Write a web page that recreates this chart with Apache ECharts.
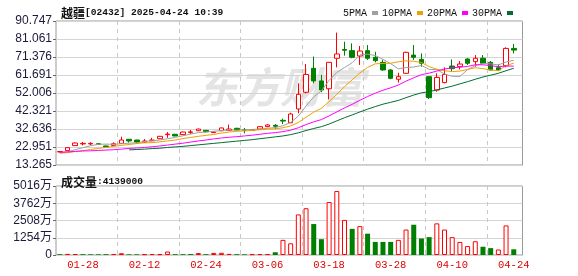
<!DOCTYPE html>
<html><head><meta charset="utf-8">
<script src="https://cdn.jsdelivr.net/npm/echarts@6/dist/echarts.min.js"></script>
<style>html,body{margin:0;padding:0;background:#fff}#c{width:578px;height:276px}</style>
</head><body><div id="c"></div>
<script>
const dates=['01-23','01-24','01-27','01-28','02-03','02-04','02-05','02-06','02-07','02-10','02-11','02-12','02-13','02-14','02-17','02-18','02-19','02-20','02-21','02-24','02-25','02-26','02-27','02-28','03-03','03-04','03-05','03-06','03-07','03-10','03-11','03-12','03-13','03-14','03-17','03-18','03-19','03-20','03-21','03-24','03-25','03-26','03-27','03-28','03-31','04-01','04-02','04-03','04-07','04-08','04-09','04-10','04-11','04-14','04-15','04-16','04-17','04-22','04-23','04-24'];
const opens=[20.3,21.0,23.7,24.6,24.6,24.7,23.5,23.8,24.9,27.1,26.7,25.5,26.3,27.4,29.6,29.8,29.6,30.8,31.7,31.9,30.7,31.7,31.9,33.0,32.2,32.0,32.6,33.9,34.6,37.3,36.0,43.4,52.4,65.3,58.5,54.3,70.7,75.4,74.8,71.9,74.8,71.2,68.5,64.4,59.4,62.6,72.4,70.1,60.8,53.6,57.6,66.5,66.2,70.3,68.9,70.7,68.5,65.6,66.7,76.0];
const closes=[20.5,22.6,25.1,24.9,24.9,24.4,23.0,24.7,26.7,26.2,25.6,26.2,26.7,28.7,29.9,28.9,31.0,31.1,32.6,31.2,31.0,33.2,32.6,32.1,32.1,32.2,33.9,34.8,34.1,36.9,40.7,51.3,62.0,58.5,53.6,68.5,73.0,75.0,71.2,74.6,70.7,69.4,64.4,59.9,60.8,73.9,71.2,68.0,49.5,60.4,62.0,65.1,67.6,68.0,70.7,68.0,64.4,64.4,76.0,75.1];
const lows=[20.0,20.9,23.6,23.8,23.9,24.2,22.8,23.7,24.8,25.3,24.7,25.3,26.1,27.2,27.9,28.7,29.4,29.8,31.5,30.8,30.5,31.5,31.8,31.9,30.3,31.7,32.4,33.6,32.6,35.3,35.9,41.1,51.8,57.2,52.4,48.6,65.8,72.1,70.7,67.1,69.8,68.5,64.0,59.4,57.6,62.4,69.8,66.2,48.8,52.7,57.2,63.5,64.7,67.1,66.2,67.8,64.2,64.2,65.8,73.3];
const highs=[20.8,22.7,25.4,25.6,25.5,24.9,23.7,25.4,28.5,27.2,26.8,27.2,27.9,28.9,31.0,30.0,31.2,32.1,32.8,32.0,31.2,33.3,35.0,33.3,33.2,32.6,34.2,35.2,35.3,38.2,41.4,57.2,67.6,71.6,61.7,68.6,84.5,79.6,78.7,77.3,77.8,74.2,69.8,64.9,62.9,74.2,77.8,73.3,60.9,62.6,65.8,70.1,69.2,70.7,72.4,72.4,69.2,67.4,76.6,78.4];
const ma5=[19.8,20.4,21.5,22.6,23.6,24.4,24.5,24.4,24.7,25.0,25.2,25.9,26.3,26.7,27.4,28.1,29.0,29.9,30.7,31.0,31.4,31.8,32.1,32.0,32.2,32.4,32.6,33.0,33.4,34.4,36.1,39.6,45.0,49.9,53.2,58.8,63.1,65.7,68.3,72.5,72.9,72.2,70.1,67.8,65.0,65.7,66.0,66.8,64.7,64.6,62.2,61.0,60.9,64.6,66.7,67.9,67.7,67.1,68.7,69.6];
const ma10=[19.6,19.9,20.5,21.0,21.6,22.2,22.7,23.3,23.8,24.3,24.8,25.2,25.3,25.7,26.2,26.7,27.5,28.1,28.7,29.2,29.7,30.4,31.0,31.4,31.6,31.9,32.2,32.6,32.7,33.3,34.3,36.1,39.0,41.7,43.8,47.4,51.3,55.4,59.1,62.8,65.8,67.7,67.9,68.0,68.8,69.3,69.1,68.4,66.2,64.8,64.0,63.5,63.8,64.7,65.6,65.1,64.4,64.0,66.7,68.1];
const ma20=[20.1,20.3,20.6,20.8,20.9,21.1,21.3,21.5,21.8,22.2,22.4,22.7,23.1,23.5,24.0,24.5,25.0,25.6,26.2,26.7,27.3,27.8,28.2,28.5,28.9,29.3,29.8,30.3,30.7,31.2,32.0,33.3,35.0,36.5,37.7,39.7,41.8,44.0,45.9,48.1,50.1,51.9,53.5,54.8,56.3,58.4,60.2,61.9,62.7,63.8,64.9,65.6,65.9,66.3,67.2,67.2,66.7,66.2,66.5,66.5];
const ma30=[null,null,null,null,null,null,null,null,null,21.4,21.6,21.8,22.1,22.3,22.7,23.0,23.3,23.7,24.1,24.5,24.9,25.3,25.7,26.1,26.5,26.9,27.4,27.9,28.4,28.9,29.6,30.6,31.8,32.9,33.9,35.3,37.0,38.7,40.2,41.8,43.3,44.7,46.0,47.0,48.0,49.5,50.9,52.1,52.7,53.7,54.7,55.7,56.9,58.1,59.4,60.6,61.6,62.6,64.0,65.3];
// volume in 万 shares; direction 1 = up (red hollow), -1 = down (green)
const volumes=[60,80,70,60,50,50,60,70,130,50,50,60,70,60,250,60,60,70,140,60,150,160,80,60,50,60,70,70,200,1100,850,2950,3400,2250,1150,3850,4650,2550,1900,2100,1550,950,950,950,1100,1850,2200,1200,1300,2300,1850,1300,950,650,1000,600,500,400,2150,413.9];
const volDir=[-1,1,1,-1,-1,-1,-1,1,1,-1,-1,1,1,1,1,-1,-1,-1,1,-1,1,1,1,-1,-1,1,1,1,-1,1,1,1,1,-1,-1,1,1,1,-1,1,-1,-1,-1,-1,1,1,-1,-1,-1,1,1,1,1,1,1,-1,-1,1,1,-1];
const priceTicks=['13.265','22.951','32.636','42.321','52.006','61.691','71.376','81.061','90.747'];
const volTicks=['0','1254万','2508万','3762万','5016万'];
const priceMin=13.265, priceMax=90.747, volMax=5016;
const maNames=['5PMA','10PMA','20PMA','30PMA'];

const RED='#ff0000', GREEN='#008000';
const MONO='"Liberation Mono","DejaVu Sans Mono",monospace';
const CJK='"Noto Sans CJK SC",sans-serif';
const NUM='"Liberation Sans","Noto Sans CJK SC",sans-serif';

const candleData=opens.map((o,i)=>[o,closes[i],lows[i],highs[i]]);
const volData=volumes.map((v,i)=>({value:v,itemStyle:volDir[i]>0?{color:'#ffffff',borderColor:RED,borderWidth:1}:{color:GREEN,borderColor:GREEN,borderWidth:0}}));
const lastVol=Math.round(volumes[volumes.length-1]*10000);

const chart=echarts.init(document.getElementById('c'),null,{renderer:'canvas'});
const frameGrid={show:true,borderColor:'#9a9a9a',borderWidth:1,backgroundColor:'transparent',outerBoundsMode:'none',containLabel:false};
const dataGrid={show:false,outerBoundsMode:'none',containLabel:false};
const labelShow=(idx)=>(idx-3)%8===0;
const hiddenVal=(g,min,max)=>({gridIndex:g,type:'value',min:min,max:max,show:false});
const helperX=(g)=>({gridIndex:g,type:'value',min:-3.5,max:56.5,interval:8,position:'top',axisLine:{show:false},axisTick:{show:false},axisLabel:{show:false},splitLine:{show:true,showMinLine:false,showMaxLine:false,lineStyle:{color:'#c8c8c8',type:[4,4],width:1}}});

const maColors=['#a0a0a0','#f0a000','#ff00ff','#006f30'];
const maData=[ma5,ma10,ma20,ma30];

chart.setOption({
  animation:false,
  backgroundColor:'#ffffff',
  title:[
    {text:'{c|越疆}{m|[02432] 2025-04-24 10:39}',left:56,top:2,textStyle:{rich:{c:{fontFamily:CJK,fontSize:12,color:'#111'},m:{fontFamily:MONO,fontSize:9.6,color:'#111'}}}},
    {text:'{c|成交量}{m|:'+lastVol+'}',left:56,top:171,textStyle:{rich:{c:{fontFamily:CJK,fontSize:12,color:'#111'},m:{fontFamily:MONO,fontSize:9.6,color:'#111'}}}}
  ],
  legend:{data:maNames,left:338,top:3,align:'right',icon:'rect',itemWidth:6,itemHeight:4,itemGap:4,selectedMode:false,textStyle:{fontFamily:MONO,fontSize:10,color:'#111',padding:[0,0,0,0]}},
  graphic:[{type:'text',left:196,top:66,z:0,silent:true,style:{text:'东方财富',font:'italic bold 42px "Noto Sans CJK SC"',fill:'#e4e4e4'}}],
  grid:[
    Object.assign({left:56,right:55.5,top:21,height:144},frameGrid),
    Object.assign({left:56,width:461.6,top:21,height:144},dataGrid),
    Object.assign({left:56,right:55.5,top:186,height:69},frameGrid),
    Object.assign({left:56,width:461.6,top:186,height:69},dataGrid)
  ],
  xAxis:[
    hiddenVal(0,0,1),
    {gridIndex:1,type:'category',data:dates,boundaryGap:true,axisLine:{show:false},axisTick:{show:false},axisLabel:{show:false},splitLine:{show:false}},
    helperX(1),
    hiddenVal(2,0,1),
    {gridIndex:3,type:'category',data:dates,boundaryGap:true,axisLine:{show:false},axisTick:{show:false},splitLine:{show:false},
      axisLabel:{show:true,interval:(idx)=>labelShow(idx),margin:5,color:'#e00000',fontFamily:MONO,fontSize:10.5,hideOverlap:false}},
    helperX(3)
  ],
  yAxis:[
    {gridIndex:0,type:'value',min:0,max:8,interval:1,axisLine:{show:false},axisTick:{show:true,length:3,lineStyle:{color:'#666'}},
      axisLabel:{margin:4,color:'#1a1a3a',fontFamily:NUM,fontSize:12,formatter:(v)=>priceTicks[Math.round(v)]},splitLine:{show:true,lineStyle:{color:'#d4d4d4',width:1}}},
    hiddenVal(1,priceMin,priceMax),
    {gridIndex:2,type:'value',min:0,max:4,interval:1,axisLine:{show:false},axisTick:{show:true,length:3,lineStyle:{color:'#666'}},
      axisLabel:{margin:4,color:'#1a1a3a',fontFamily:NUM,fontSize:12,formatter:(v)=>volTicks[Math.round(v)]},splitLine:{show:true,lineStyle:{color:'#d4d4d4',width:1}}},
    hiddenVal(3,0,volMax)
  ],
  series:[
    {name:'K',type:'candlestick',xAxisIndex:1,yAxisIndex:1,data:candleData,barWidth:5,z:3,
      itemStyle:{color:'#ffffff',color0:GREEN,borderColor:RED,borderColor0:GREEN,borderWidth:1}},
    ...maNames.map((n,k)=>({name:n,type:'line',xAxisIndex:1,yAxisIndex:1,data:maData[k],showSymbol:false,symbol:'none',z:4,
      lineStyle:{color:maColors[k],width:1},itemStyle:{color:maColors[k]},connectNulls:false})),
    {name:'VOL',type:'bar',xAxisIndex:4,yAxisIndex:3,data:volData,barWidth:5,z:3}
  ]
});
</script></body></html>
